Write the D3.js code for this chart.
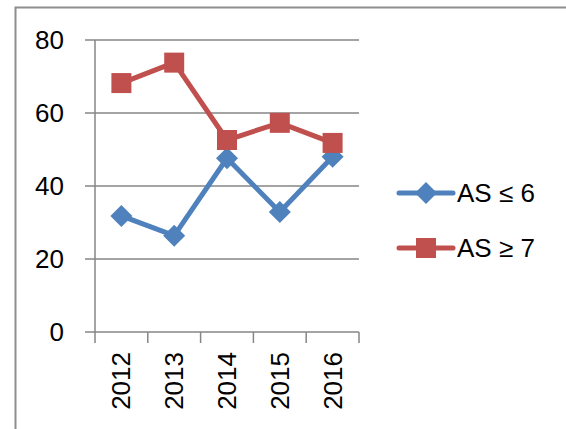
<!DOCTYPE html>
<html>
<head>
<meta charset="utf-8">
<script src="https://cdn.jsdelivr.net/npm/d3@7"></script>
<style>
  body { margin: 0; background: #fff; }
  text { font-family: "Liberation Sans", Arial, sans-serif; fill: #000; }
</style>
</head>
<body>
<div id="chart"></div>
<script>
// chart data
const years = ["2012", "2013", "2014", "2015", "2016"];
const seriesNames = ["AS \u2264 6", "AS \u2265 7"];
const lowAS = [31.8, 26.4, 47.6, 32.9, 48.0];
const highAS = [68.2, 73.8, 52.6, 57.3, 51.8];
const yTicks = [0, 20, 40, 60, 80];

const colors = ["#4F81BD", "#C0504D"];

function lineChart() {
    const W = 566, H = 429;
    const plot = {left: 95, right: 359, top: 40, bottom: 332};

    const svg = d3.select("#chart")
        .append("svg")
        .attr("width", W)
        .attr("height", H);

    // outer chart border (only left and top are in view)
    svg.append("path")
        .attr("d", `M15.5,${H} L15.5,7.5 L${W},7.5`)
        .attr("fill", "none")
        .attr("stroke", "#8e8e8e")
        .attr("stroke-width", 2);

    const xScale = d3.scaleBand()
        .domain(years)
        .range([plot.left, plot.right]);

    const yScale = d3.scaleLinear()
        .domain([0, 80])
        .range([plot.bottom, plot.top]);

    // gridlines + y ticks
    svg.selectAll(".grid")
        .data(yTicks)
        .join("line")
        .attr("x1", plot.left - 10)
        .attr("x2", plot.right)
        .attr("y1", d => yScale(d))
        .attr("y2", d => yScale(d))
        .attr("stroke", "#868686")
        .attr("stroke-width", 1.5);

    svg.selectAll(".ylab")
        .data(yTicks)
        .join("text")
        .attr("x", 64)
        .attr("y", d => yScale(d))
        .attr("dy", "0.36em")
        .attr("text-anchor", "end")
        .style("font-size", "26px")
        .text(d => d);

    // y axis line
    svg.append("line")
        .attr("x1", plot.left).attr("x2", plot.left)
        .attr("y1", plot.top).attr("y2", plot.bottom)
        .attr("stroke", "#868686")
        .attr("stroke-width", 1.5);

    // x ticks at category boundaries
    const bounds = years.map(y => xScale(y)).concat([xScale.range()[1]]);
    svg.selectAll(".xtick")
        .data(bounds)
        .join("line")
        .attr("x1", d => d).attr("x2", d => d)
        .attr("y1", plot.bottom).attr("y2", plot.bottom + 11)
        .attr("stroke", "#868686")
        .attr("stroke-width", 1.5);

    // x labels, rotated
    svg.selectAll(".xlab")
        .data(years)
        .join("text")
        .attr("transform", d => `translate(${xScale(d) + xScale.bandwidth() / 2 + 9}, 352) rotate(-90)`)
        .attr("text-anchor", "end")
        .style("font-size", "26px")
        .text(d => d);

    const cx = d => xScale(d) + xScale.bandwidth() / 2;
    const line = d3.line()
        .x(d => cx(d.year))
        .y(d => yScale(d.value));

    const allSeries = [lowAS, highAS].map((vals, i) => ({
        name: seriesNames[i],
        color: colors[i],
        points: years.map((y, j) => ({year: y, value: vals[j]}))
    }));

    allSeries.forEach((s, i) => {
        svg.append("path")
            .datum(s.points)
            .attr("d", line)
            .attr("fill", "none")
            .attr("stroke", s.color)
            .attr("stroke-width", 5)
            .attr("stroke-linejoin", "round");

        if (i === 0) {
            svg.selectAll(".diamond")
                .data(s.points)
                .join("path")
                .attr("d", "M0,-11 L11,0 L0,11 L-11,0 Z")
                .attr("transform", d => `translate(${cx(d.year)},${yScale(d.value)})`)
                .attr("fill", s.color);
        } else {
            svg.selectAll(".square")
                .data(s.points)
                .join("rect")
                .attr("x", d => cx(d.year) - 10)
                .attr("y", d => yScale(d.value) - 10)
                .attr("width", 20)
                .attr("height", 20)
                .attr("fill", s.color);
        }
    });

    // legend
    const legY = [193, 248];
    allSeries.forEach((s, i) => {
        const g = svg.append("g").attr("transform", `translate(0, ${legY[i]})`);
        g.append("line")
            .attr("x1", 399).attr("x2", 453)
            .attr("stroke", s.color)
            .attr("stroke-width", 5)
            .attr("stroke-linecap", "round");
        if (i === 0) {
            g.append("path")
                .attr("d", "M0,-11 L11,0 L0,11 L-11,0 Z")
                .attr("transform", "translate(426,0)")
                .attr("fill", s.color);
        } else {
            g.append("rect")
                .attr("x", 416).attr("y", -10)
                .attr("width", 20).attr("height", 20)
                .attr("fill", s.color);
        }
        g.append("text")
            .attr("x", 457)
            .attr("y", 0)
            .attr("dy", "0.36em")
            .style("font-size", "26px")
            .text(s.name);
    });
}

lineChart();
</script>
</body>
</html>
